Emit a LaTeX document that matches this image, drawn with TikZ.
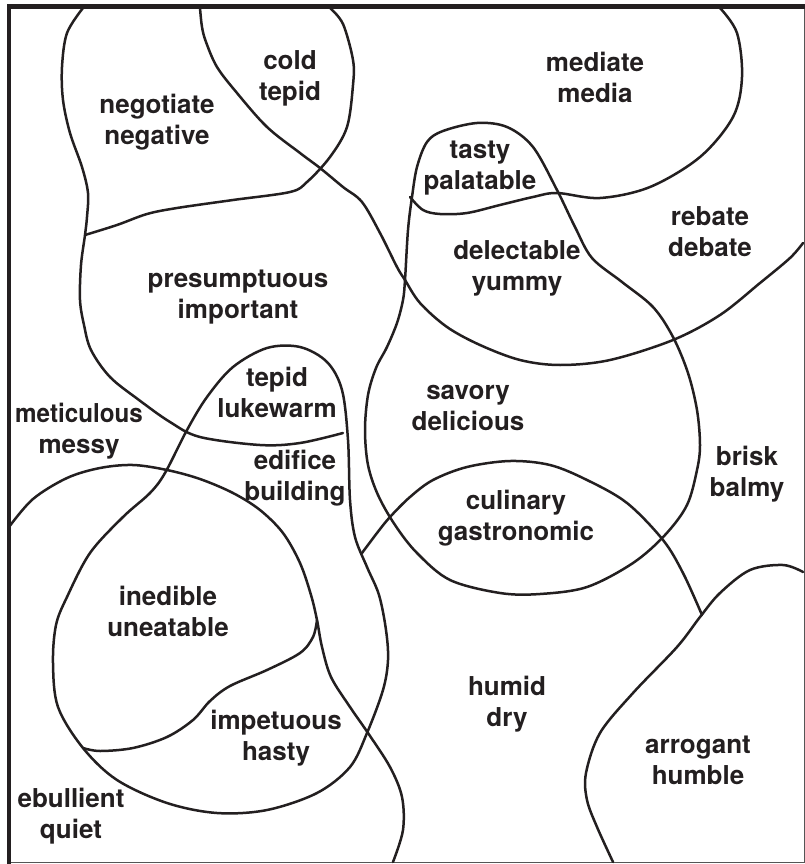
\documentclass[tikz,border=0pt]{standalone}
\usepackage{fontspec}
\usepackage{graphicx}
\setmainfont{TeX Gyre Heros}
\definecolor{ink}{HTML}{231F20}
\definecolor{edge}{HTML}{555555}
\begin{document}
\begin{tikzpicture}[x=1pt,y=-1pt,
  curve/.style={draw=ink,line width=2.5pt,line cap=round,line join=round},
  lbl/.style={text=ink,align=center,inner sep=0pt,font=\bfseries\fontsize{26}{31}\selectfont}]
\useasboundingbox (0,0) rectangle (805,864);
\fill[white] (0,0) rectangle (805,864);
% frame
\draw[edge,line width=1pt] (9,862.5) -- (804,862.5) -- (804,6);
\draw[ink,line width=4.6pt] (9,864) -- (9,6.5) -- (805,6.5);
% curves
\draw[curve] plot[smooth,tension=0.55] coordinates {(83,8) (67,33) (62,67) (63,100) (70,133) (82,167) (88,193) (87,217) (85,235) (81,265) (80,300) (84,325) (91,350) (110,377) (139,400) (170,422) (200,437) (260,445) (300,443) (343,433)};
\draw[curve] plot[smooth,tension=0.55] coordinates {(330,8) (343,24) (353,60) (353,85) (347,127) (330,157) (307,182) (290,192) (233,200) (177,208) (147,214) (117,225) (85,235)};
\draw[curve] plot[smooth,tension=0.55] coordinates {(200,8) (202,27) (206,42) (217,67) (237,93) (267,127) (300,153) (320,168) (343,187) (362,202) (380,233) (397,267) (405,280) (420,303) (447,327) (480,345) (520,360) (560,365) (610,360) (673,340) (720,315) (760,283) (790,258) (803,243)};
\draw[curve] plot[smooth,tension=0.55] coordinates {(720,8) (737,33) (742,77) (733,117) (700,157) (650,187) (600,198) (557,193) (533,197) (500,205) (467,213) (440,214) (423,210) (410,197)};
\draw[curve] plot[smooth cycle,tension=0.55] coordinates {(443,131) (477,123) (507,127) (533,147) (557,190) (575,227) (592,258) (622,282) (653,307) (673,337) (688,373) (697,410) (700,445) (697,470) (687,505) (665,535) (633,563) (587,587) (540,594) (500,593) (450,580) (417,553) (395,525) (378,495) (368,465) (365,430) (368,395) (376,368) (387,347) (397,323) (403,300) (405,280) (408,230) (412,197) (417,167) (427,142)};
\draw[curve] plot[smooth,tension=0.55] coordinates {(362,553) (377,533) (390,517) (410,497) (433,480) (467,467) (510,461) (550,465) (587,480) (627,503) (663,540) (683,573) (702,615)};
\draw[curve] plot[smooth,tension=0.55] coordinates {(9,527) (33,499) (67,478) (100,468) (133,465) (167,470) (200,479) (233,493) (260,510) (283,533) (300,563) (311,595) (317,620) (322,647) (331,677) (350,707) (368,733) (390,767) (402,797) (403,830) (393,862)};
\draw[curve] plot[smooth cycle,tension=0.55] coordinates {(300,347) (327,362) (342,390) (348,440) (350,500) (355,537) (367,567) (379,595) (386,630) (388,660) (383,690) (367,733) (350,767) (317,793) (267,810) (217,813) (167,803) (117,780) (83,748) (58,707) (53,663) (56,625) (67,597) (90,553) (123,517) (150,493) (165,473) (187,430) (207,397) (233,367) (267,348)};
\draw[curve] plot[smooth,tension=0.55] coordinates {(83,748) (100,751) (133,748) (167,737) (193,720) (210,701) (230,686) (267,670) (300,653) (313,637) (317,620)};
\draw[curve] plot[smooth,tension=0.55] coordinates {(803,572) (783,565) (750,570) (720,593) (700,617) (677,647) (633,693) (600,733) (586,773) (587,800) (597,827) (613,862)};
% labels
\node[lbl] (cold) at (290,78) {cold\\tepid};
\node[lbl] (nego) at (157,122) {negotiate\\negative};
\node[lbl] (medi) at (595,77) {mediate\\media};
\node[lbl] (tast) at (480,168) {tasty\\palatable};
\node[lbl] (reba) at (710,232) {rebate\\debate};
\node[lbl] (dele) at (517,268) {delectable\\yummy};
\node[lbl] (pres) at (238,297) {presumptuous\\important};
\node[lbl] (tepi) at (277,392) {tepid\\lukewarm};
\node[lbl] (meti) at (79,431) {\scalebox{0.93}[1]{meticulous}\\messy};
\node[lbl] (edif) at (295,478) {edifice\\building};
\node[lbl] (savo) at (468,408) {savory\\delicious};
\node[lbl] (bris) at (747,474) {brisk\\balmy};
\node[lbl] (culi) at (516,518) {culinary\\gastronomic};
\node[lbl] (ined) at (168,611) {inedible\\uneatable};
\node[lbl] (impe) at (276,738) {impetuous\\hasty};
\node[lbl] (ebul) at (71,816) {ebullient\\quiet};
\node[lbl] (humi) at (507,704) {humid\\dry};
\node[lbl] (arro) at (698,760) {arrogant\\humble};
\end{tikzpicture}
\end{document}
